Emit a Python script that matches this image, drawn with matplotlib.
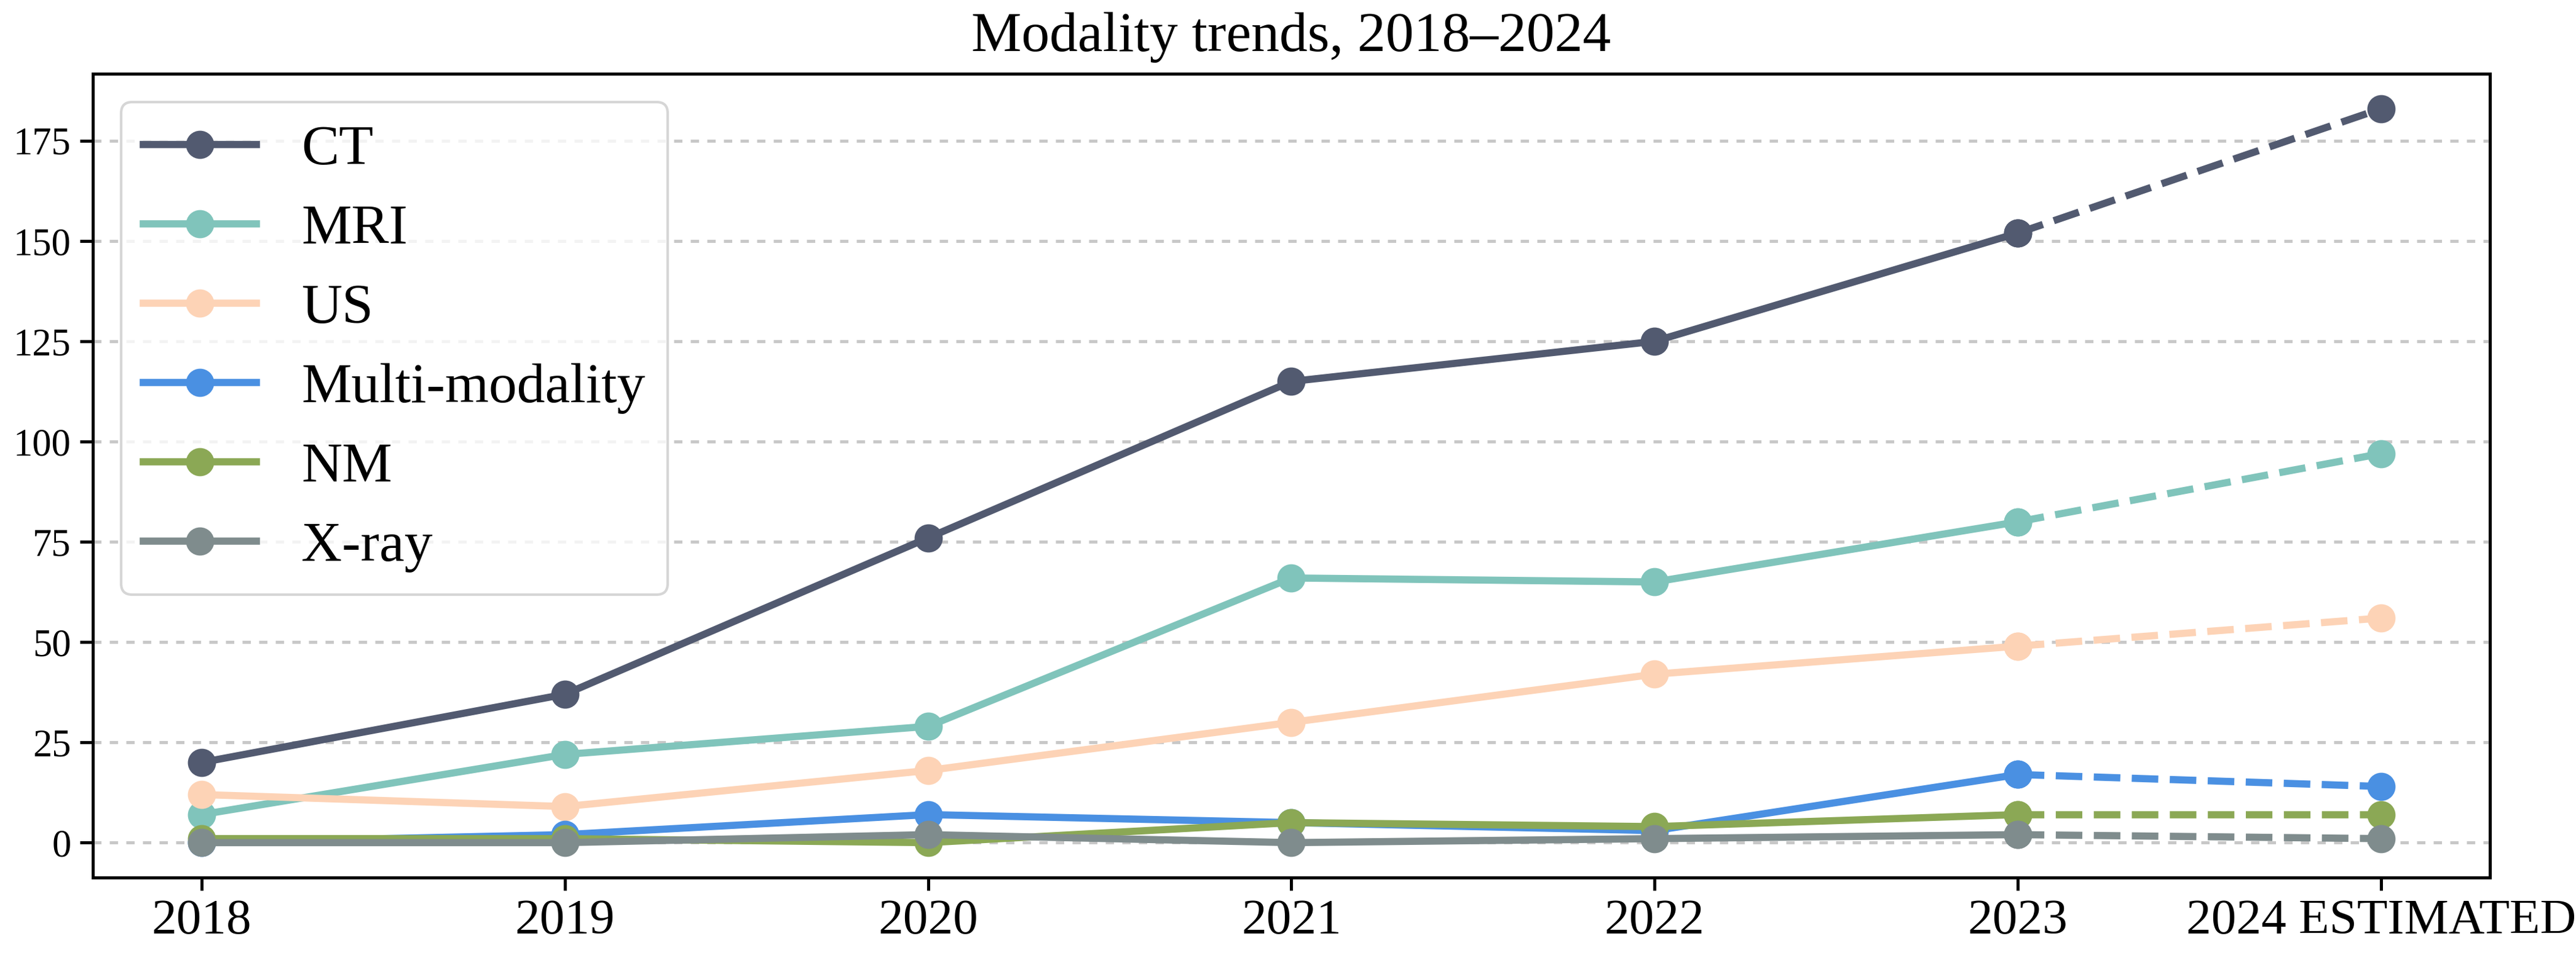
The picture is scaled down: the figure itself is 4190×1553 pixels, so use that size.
import numpy as np
import matplotlib
matplotlib.use("Agg")
import matplotlib.pyplot as plt

plt.rcParams['font.family'] = ['Liberation Serif', 'DejaVu Serif']

years = ["2018", "2019", "2020", "2021", "2022", "2023", "2024 ESTIMATED"]

ct = [20, 37, 76, 115, 125, 152, 183]
mri = [7, 22, 29, 66, 65, 80, 97]
us = [12, 9, 18, 30, 42, 49, 56]
multi = [0, 2, 7, 5, 3, 17, 14]
nm = [1, 1, 0, 5, 4, 7, 7]
xray = [0, 0, 2, 0, 1, 2, 1]

series_names = ["CT", "MRI", "US", "Multi-modality", "NM", "X-ray"]
series_vals = [ct, mri, us, multi, nm, xray]
colors = ["#525a70", "#80c4bb", "#fdd3b6", "#4a90e2", "#8ba855", "#7f8c8d"]

fig = plt.figure(figsize=(4190 / 300, 1553 / 300), dpi=300)
ax = fig.add_axes([0.036, 0.0811, 0.9306, 0.8416])

x = np.arange(len(years))
for name, vals, c in zip(series_names, series_vals, colors):
    # actual years solid, estimate dashed
    ax.plot(x[:6], vals[:6], color=c, lw=2.8, marker='o', markersize=10, label=name)
    ax.plot(x[5:], vals[5:], color=c, lw=2.8, marker='o', markersize=10, linestyle='--')

ax.set_xticks(x)
ax.set_xticklabels(years, fontsize=19.5)
ax.set_yticks(np.arange(0, 176, 25))
ax.tick_params(axis='y', labelsize=15)
ax.tick_params(axis='both', width=1.2, length=5)
ax.set_xlim(-0.3, 6.3)
ax.set_ylim(-8.7, 191.7)

ax.yaxis.grid(True, color='#c8c8c8', lw=1.2, linestyle=(0, (2.7, 2.7)))
ax.set_axisbelow(True)
for s in ax.spines.values():
    s.set_linewidth(1.2)

ax.set_title("Modality trends, 2018\u20132024", fontsize=22, pad=9)
ax.legend(loc='upper left', fontsize=22)

fig.savefig("out.png", dpi=300)
